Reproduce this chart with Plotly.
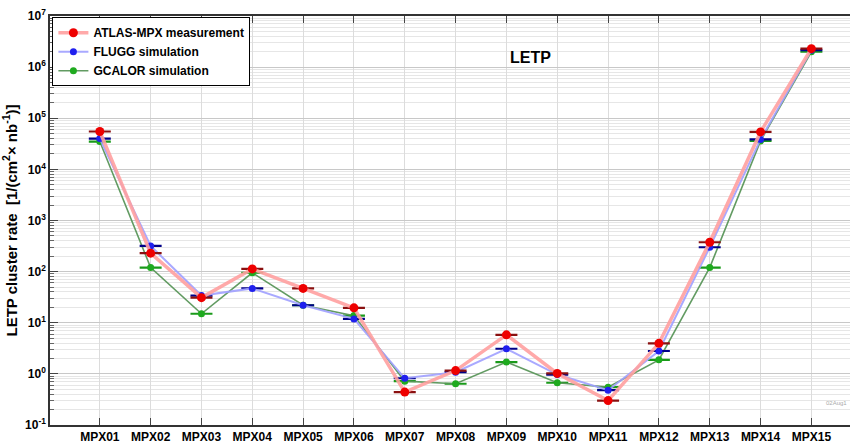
import plotly.graph_objects as go

categories = ["MPX01", "MPX02", "MPX03", "MPX04", "MPX05", "MPX06", "MPX07", "MPX08",
              "MPX09", "MPX10", "MPX11", "MPX12", "MPX13", "MPX14", "MPX15"]
atlas = [55000, 230, 31, 113, 47, 19.6, 0.44, 1.16, 5.8, 1.02, 0.30, 3.96, 376, 54000, 2.3e6]
flugg = [40000, 318, 34, 47, 22, 11.9, 0.82, 1.08, 3.1, 0.97, 0.48, 2.8, 300, 38500, 2.15e6]
gcalor = [35000, 120, 15, 95, 22, 13.8, 0.72, 0.64, 1.7, 0.67, 0.55, 1.88, 120, 36000, 2.0e6]

decades = list(range(-1, 8))
major_vals = [10.0 ** d for d in decades]
major_text = ["<b>10<sup>%d</sup></b>" % d for d in decades]
minor_vals = [m * 10.0 ** d for d in decades[:-1] for m in range(2, 10)]
tick_text_x = ["<b>%s</b>" % c for c in categories]

fig = go.Figure()

def add(name, y, lcol, lw, mcol, msize, ecol):
    fig.add_trace(go.Scatter(
        x=categories, y=y, name=name, mode="lines+markers",
        line=dict(color=lcol, width=lw),
        marker=dict(color=mcol, size=msize, symbol="circle"),
        error_y=dict(type="percent", value=1.5, color=ecol, thickness=1.5, width=11),
    ))

add("GCALOR simulation", gcalor, "rgba(90,150,90,0.95)", 1.6, "#1faa1f", 7, "#1a9a1a")
add("FLUGG simulation", flugg, "rgba(160,160,255,0.9)", 2, "#2020ee", 7, "#000088")
add("ATLAS-MPX measurement", atlas, "rgba(255,160,160,0.9)", 3.5, "#ee0000", 9, "#8a1010")

fig.update_layout(
    width=850, height=444,
    margin=dict(l=50, r=0, t=16, b=14),
    paper_bgcolor="white", plot_bgcolor="white",
    font=dict(family="Liberation Sans, Arial, sans-serif", color="black"),
    showlegend=True,
    legend=dict(x=0.003, y=0.997, xanchor="left", yanchor="top",
                bgcolor="white", bordercolor="black", borderwidth=1,
                traceorder="reversed", font=dict(size=12, family="Liberation Sans", weight="bold"),
                tracegroupgap=0, itemwidth=30),
    annotations=[
        dict(text="<b>LETP</b>", x=(530 - 50) / 800, y=(430 - 58) / 414, xref="paper", yref="paper",
             showarrow=False, font=dict(size=16), xanchor="center", yanchor="middle"),
        dict(text="02Aug1", x=(824 - 50) / 800, y=(430 - 408) / 414, xref="paper", yref="paper",
             showarrow=False, font=dict(size=6, color="#aaaaaa"), xanchor="left", yanchor="middle"),
    ],
)

fig.update_xaxes(
    type="category", range=[-0.98, 14.76],
    tickmode="array", tickvals=categories, ticktext=tick_text_x,
    showgrid=True, gridcolor="#dcdcdc", gridwidth=1,
    showline=True, linecolor="#333333", linewidth=1.5, mirror="ticks",
    ticks="inside", ticklen=7, tickcolor="#444444",
    tickfont=dict(size=12),
    zeroline=False,
)

fig.update_yaxes(
    type="log", range=[-1, 7],
    tickvals=major_vals, ticktext=major_text,
    showgrid=True, gridcolor="#c8c8c8", gridwidth=1,
    showline=True, linecolor="#333333", linewidth=1.5,
    ticks="inside", ticklen=8, tickcolor="#444444",
    tickfont=dict(size=12),
    minor=dict(tickvals=minor_vals, showgrid=True, gridcolor="#e6e6e6", gridwidth=1,
               ticks="inside", ticklen=4, tickcolor="#666666"),
    title=dict(text="<b>LETP cluster rate  [1/(cm<sup>2</sup>× nb<sup>-1</sup>)]</b>",
               font=dict(size=15), standoff=4),
    zeroline=False,
)

fig.write_html("out.html")
